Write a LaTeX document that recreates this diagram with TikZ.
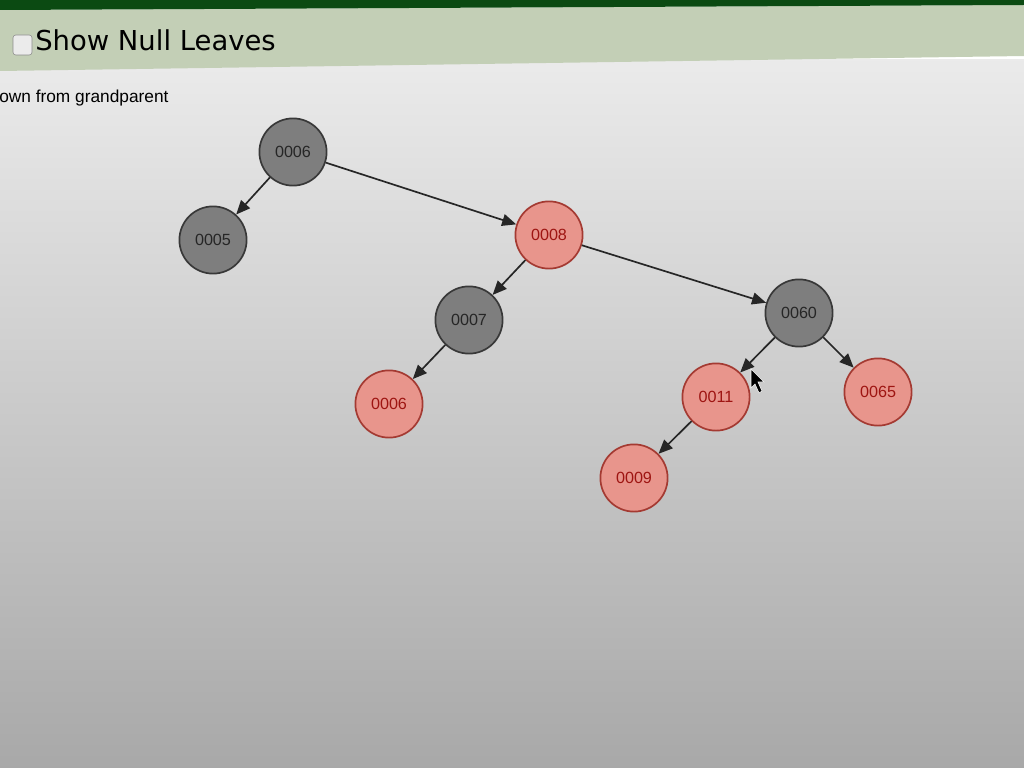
\documentclass[tikz,border=0pt]{standalone}
\usepackage{fontspec}
\setmainfont{Liberation Sans}
\newfontfamily\verdanafont{DejaVu Sans}
\usetikzlibrary{arrows.meta}
\definecolor{barDark}{HTML}{0B4A12}
\definecolor{barLight}{HTML}{C3CFB6}
\definecolor{blackFill}{HTML}{7E7E7E}
\definecolor{blackEdge}{HTML}{383838}
\definecolor{redFill}{HTML}{E8958C}
\definecolor{redEdge}{HTML}{A43A32}
\definecolor{redText}{HTML}{9E1512}

\begin{document}
\begin{tikzpicture}[x=0.025cm, y=-0.025cm, >={Triangle[length=10pt,width=8.5pt]},
  rbnode/.style={circle, minimum size=1.68cm, inner sep=0pt, line width=1.2pt, font=\fontsize{11.5}{12}\selectfont},
  blacknode/.style={rbnode, draw=blackEdge, fill=blackFill, text=black!85},
  rednode/.style={rbnode, draw=redEdge, fill=redFill, text=redText},
  link/.style={->, line width=1.2pt, draw=black!85}]
\useasboundingbox (0,0) rectangle (1024,768);
% screen background
\shade[top color=black!8, middle color=black!14, bottom color=black!34] (0,60) rectangle (1024,768);
% header bars
\fill[barLight] (0,10) -- (1024,5) -- (1024,56) -- (0,71) -- cycle;
\fill[barDark] (0,0) -- (1024,0) -- (1024,5) -- (0,10) -- cycle;
% checkbox and caption
\draw[black!45, fill=black!8, rounded corners=2pt] (13,35) rectangle (32,55);
\node[anchor=base west, inner sep=0pt, font=\verdanafont\fontsize{19.5}{20}\selectfont] (caption) at (35,51) {Show Null Leaves};
\node[anchor=base west, inner sep=0pt, font=\fontsize{12.3}{13}\selectfont] (note) at (-1,103) {own from grandparent};
% tree nodes
\node[blacknode] (n6) at (293,152) {0006};
\node[blacknode] (n5) at (213,240) {0005};
\node[rednode] (n8) at (549,235) {0008};
\node[blacknode] (n7) at (469,320) {0007};
\node[blacknode] (n60) at (799,313) {0060};
\node[rednode] (n6b) at (389,404) {0006};
\node[rednode] (n11) at (716,397) {0011};
\node[rednode] (n65) at (878,392) {0065};
\node[rednode] (n9) at (634,478) {0009};
% edges
\draw[link] (n6) -- (n5);
\draw[link] (n6) -- (n8);
\draw[link] (n8) -- (n7);
\draw[link] (n8) -- (n60);
\draw[link] (n7) -- (n6b);
\draw[link] (n60) -- (n11);
\draw[link] (n60) -- (n65);
\draw[link] (n11) -- (n9);
% mouse pointer
\fill[black, draw=white, line width=0.4pt] (751,369) -- (751,388) -- (755,384) -- (759,393) -- (762,391) -- (758,382) -- (764,382) -- cycle;
\end{tikzpicture}
\end{document}
